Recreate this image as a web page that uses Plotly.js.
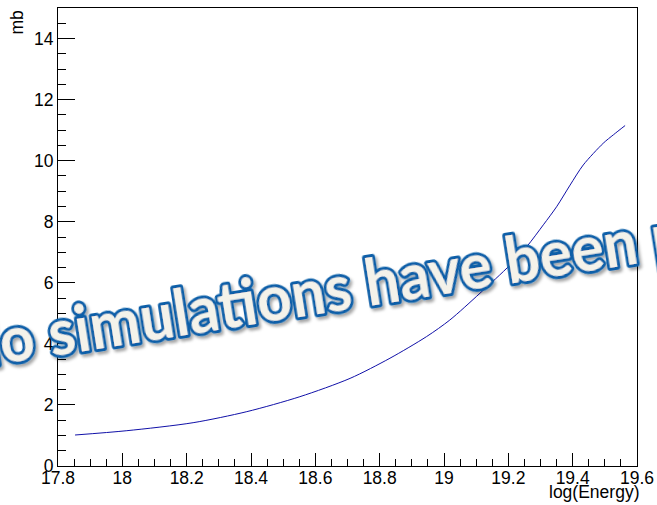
<!DOCTYPE html>
<html>
<head>
<meta charset="utf-8">
<script src="https://cdn.plot.ly/plotly-3.0.1.min.js"></script>
<style>
  html, body { margin: 0; padding: 0; background: #fff; overflow: hidden; }
  #wrap { position: relative; width: 657px; height: 505px; }
  #chart { position: absolute; left: 0; top: 0; width: 657px; height: 505px; }
  #stamp { position: absolute; left: 0; top: 0; pointer-events: none; overflow: hidden; }
</style>
</head>
<body>
<div id="wrap">
  <div id="chart"></div>
  <svg id="stamp" width="657" height="505" xmlns="http://www.w3.org/2000/svg">
    <defs>
      <filter id="soft" x="-10%" y="-30%" width="130%" height="180%">
        <feDropShadow dx="2" dy="3" stdDeviation="1.6" flood-color="#000" flood-opacity="0.35"/>
      </filter>
    </defs>
    <g id="stampGroup" filter="url(#soft)">
      <text id="stampText" font-family="Lato, 'Open Sans', sans-serif" font-weight="700"
            fill="#f4f2ea" stroke="#0b5fa8" stroke-width="6" stroke-linejoin="round"
            style="paint-order: stroke fill;">No simulations have been performed</text>
    </g>
  </svg>
</div>
<script>
// Cross section vs log10 of the energy
const logEnergy = [17.853, 18.014, 18.22, 18.387, 18.552, 18.708, 18.832, 18.946, 19.018,
                   19.112, 19.205, 19.257, 19.309, 19.35, 19.392, 19.433, 19.495, 19.527, 19.563];
const crossSection = [1.015, 1.156, 1.418, 1.78, 2.27, 2.87, 3.53, 4.24, 4.78,
                      5.66, 6.58, 7.18, 7.9, 8.49, 9.20, 9.86, 10.57, 10.85, 11.15];

const xTickVals = [17.8, 18.0, 18.2, 18.4, 18.6, 18.8, 19.0, 19.2, 19.4, 19.6];
const xTickText = ['17.8', '18', '18.2', '18.4', '18.6', '18.8', '19', '19.2', '19.4', '19.6'];
const yTickVals = [0, 2, 4, 6, 8, 10, 12, 14];
const yTickText = ['0', '2', '4', '6', '8', '10', '12', '14'];

const xTitle = 'log(Energy)';
const yTitle = 'mb';
const stampMessage = 'No simulations have been performed';

const labelFont = { family: 'Liberation Sans, Arial, sans-serif', size: 17.5, color: '#000' };

const trace = {
  x: logEnergy,
  y: crossSection,
  type: 'scatter',
  mode: 'lines',
  line: { color: '#1010a8', width: 1, shape: 'spline', smoothing: 0.8 },
  hoverinfo: 'skip',
  showlegend: false
};

const layout = {
  width: 657,
  height: 505,
  margin: { l: 58, r: 20, t: 8, b: 39 },
  paper_bgcolor: '#ffffff',
  plot_bgcolor: '#ffffff',
  showlegend: false,
  xaxis: {
    range: [17.8, 19.6],
    tickmode: 'array',
    tickvals: xTickVals,
    ticktext: xTickText,
    ticks: 'inside',
    ticklen: 13,
    tickwidth: 1,
    tickcolor: '#000',
    showgrid: false,
    zeroline: false,
    showline: true,
    linecolor: '#000',
    linewidth: 1,
    mirror: true,
    tickfont: labelFont,
    ticklabelstandoff: -4,
    minor: { tick0: 17.8, dtick: 0.05, ticks: 'inside', ticklen: 7, tickwidth: 1, tickcolor: '#000', showgrid: false }
  },
  yaxis: {
    range: [0, 15],
    tickmode: 'array',
    tickvals: yTickVals,
    ticktext: yTickText,
    ticks: 'inside',
    ticklen: 17,
    tickwidth: 1,
    tickcolor: '#000',
    showgrid: false,
    zeroline: false,
    showline: true,
    linecolor: '#000',
    linewidth: 1,
    mirror: true,
    tickfont: labelFont,
    ticklabelstandoff: 0,
    minor: { tick0: 0, dtick: 0.5, ticks: 'inside', ticklen: 8, tickwidth: 1, tickcolor: '#000', showgrid: false }
  },
  annotations: [
    {
      text: xTitle, xref: 'paper', yref: 'paper', x: 1.007, y: -0.057,
      xanchor: 'right', yanchor: 'middle', showarrow: false, font: labelFont
    },
    {
      text: yTitle, xref: 'paper', yref: 'paper', x: -0.07, y: 1.0,
      xanchor: 'center', yanchor: 'top', textangle: -90, showarrow: false, font: labelFont
    }
  ]
};

Plotly.newPlot('chart', [trace], layout, { displayModeBar: false, staticPlot: true });

// Rotated stamp banner laid across the plot
(function placeStamp() {
  const squeeze = 0.92;
  const t = document.getElementById('stampText');
  t.textContent = stampMessage;
  const base = 100;
  t.setAttribute('font-size', base);
  // span from the start of "o" to the start of the last word
  const lastWord = stampMessage.lastIndexOf(' ') + 1;
  const span = t.getSubStringLength(1, lastWord - 1);
  const size = base * 660 / (span * squeeze);
  t.setAttribute('font-size', size.toFixed(2));
  const lead = t.getSubStringLength(0, 1);
  t.setAttribute('x', (-lead).toFixed(2));
  t.setAttribute('y', 0);
  document.getElementById('stampGroup').setAttribute('transform',
    'translate(3 364) rotate(-9) scale(' + squeeze + ' 1)');
})();
</script>
</body>
</html>
